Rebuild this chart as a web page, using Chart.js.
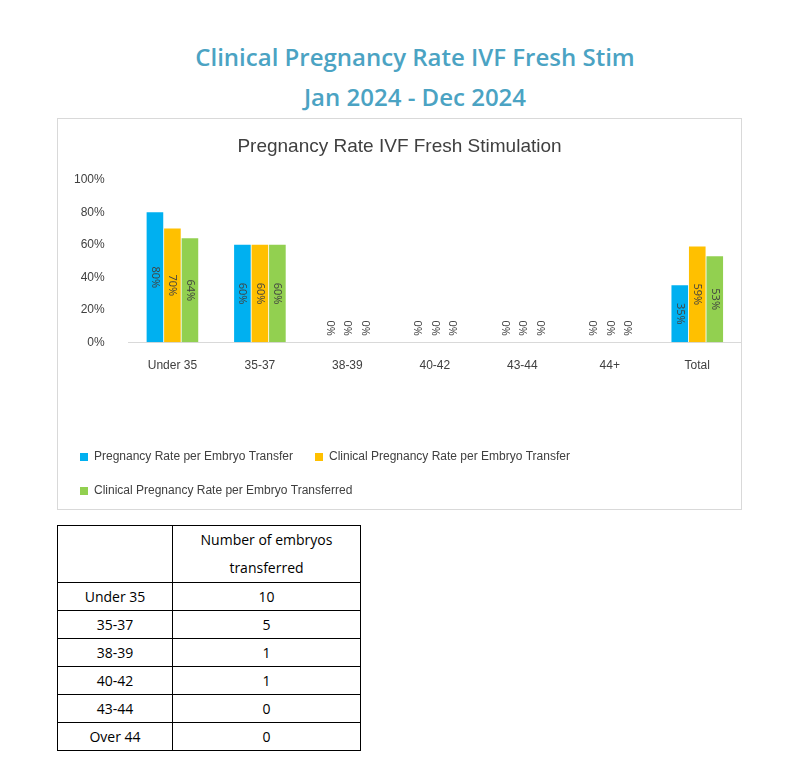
<!DOCTYPE html>
<html><head><meta charset="utf-8">
<script src="https://cdn.jsdelivr.net/npm/chart.js@4/dist/chart.umd.min.js"></script>
<style>
body{margin:0;background:#fff;font-family:"Open Sans",sans-serif;}
.title{position:absolute;left:0;width:830px;text-align:center;color:#4ba3c3;font-size:24px;font-weight:600;}
#box{position:absolute;left:57px;top:118px;width:685px;height:392px;border:1px solid #d9d9d9;box-sizing:border-box;}
table{position:absolute;left:57px;top:525px;border-collapse:collapse;font-size:14px;color:#000;}
td{border:1px solid #000;text-align:center;height:27px;padding:0;}
</style></head><body>
<div class="title" style="top:40px">Clinical Pregnancy Rate IVF Fresh Stim</div>
<div class="title" style="top:80px">Jan 2024 - Dec 2024</div>
<div id="box"><canvas id="c"></canvas></div>
<table>
<tr><td style="width:114px;height:56px"></td><td style="width:187px;line-height:28px">Number of embryos<br>transferred</td></tr>
<tr><td>Under 35</td><td>10</td></tr>
<tr><td>35-37</td><td>5</td></tr>
<tr><td>38-39</td><td>1</td></tr>
<tr><td>40-42</td><td>1</td></tr>
<tr><td>43-44</td><td>0</td></tr>
<tr><td>Over 44</td><td>0</td></tr>
</table>
<script>
var categories = ["Under 35", "35-37", "38-39", "40-42", "43-44", "44+", "Total"];
var perTransfer = [80, 60, 0, 0, 0, 0, 35];
var clinicalPerTransfer = [70, 60, 0, 0, 0, 0, 59];
var clinicalPerEmbryo = [64, 60, 0, 0, 0, 0, 53];

var barLabels = {
    id: "barLabels",
    afterDatasetsDraw: function (chart) {
        var ctx = chart.ctx;
        ctx.save();
        ctx.font = "11px 'Open Sans'";
        ctx.fillStyle = "#404040";
        ctx.textAlign = "center";
        ctx.textBaseline = "middle";
        chart.data.datasets.forEach(function (ds, i) {
            chart.getDatasetMeta(i).data.forEach(function (el, j) {
                var v = ds.data[j];
                var y = v === 0 ? el.base - 14 : (el.y + el.base) / 2;
                ctx.save();
                ctx.translate(el.x, y);
                ctx.rotate(Math.PI / 2);
                ctx.fillText(v + "%", 0, 0);
                ctx.restore();
            });
        });
        ctx.restore();
    }
};

new Chart(document.getElementById("c"), {
    type: "bar",
    data: {
        labels: categories,
        datasets: [
            { label: "Pregnancy Rate per Embryo Transfer", data: perTransfer, backgroundColor: "#00b0f0" },
            { label: "Clinical Pregnancy Rate per Embryo Transfer", data: clinicalPerTransfer, backgroundColor: "#ffc000" },
            { label: "Clinical Pregnancy Rate per Embryo Transferred", data: clinicalPerEmbryo, backgroundColor: "#92d050" }
        ]
    },
    options: {
        responsive: true,
        maintainAspectRatio: false,
        animation: false,
        layout: { padding: { left: 0, right: 0, top: 10, bottom: 2 } },
        datasets: { bar: { categoryPercentage: 0.6, barPercentage: 0.95 } },
        scales: {
            x: {
                grid: { display: false },
                border: { color: "#d9d9d9" },
                ticks: { color: "#404040", font: { size: 12 }, padding: 8 },
                title: { display: true, text: " ", font: { size: 12 }, padding: { top: 20, bottom: 14 } }
            },
            y: {
                min: 0, max: 100,
                grid: { display: false },
                border: { display: false },
                ticks: { stepSize: 20, color: "#404040", font: { size: 12 }, padding: 16,
                    callback: function (v) { return v + "%"; } }
            }
        },
        plugins: {
            title: { display: true, text: "Pregnancy Rate IVF Fresh Stimulation", color: "#404040",
                font: { size: 19, weight: "normal" }, padding: { top: 6, bottom: 22 } },
            legend: { position: "bottom", align: "start",
                labels: { boxWidth: 8, boxHeight: 8, color: "#404040", font: { size: 12 }, padding: 22 } },
            tooltip: { enabled: false }
        }
    },
    plugins: [barLabels]
});
</script>
</body></html>
